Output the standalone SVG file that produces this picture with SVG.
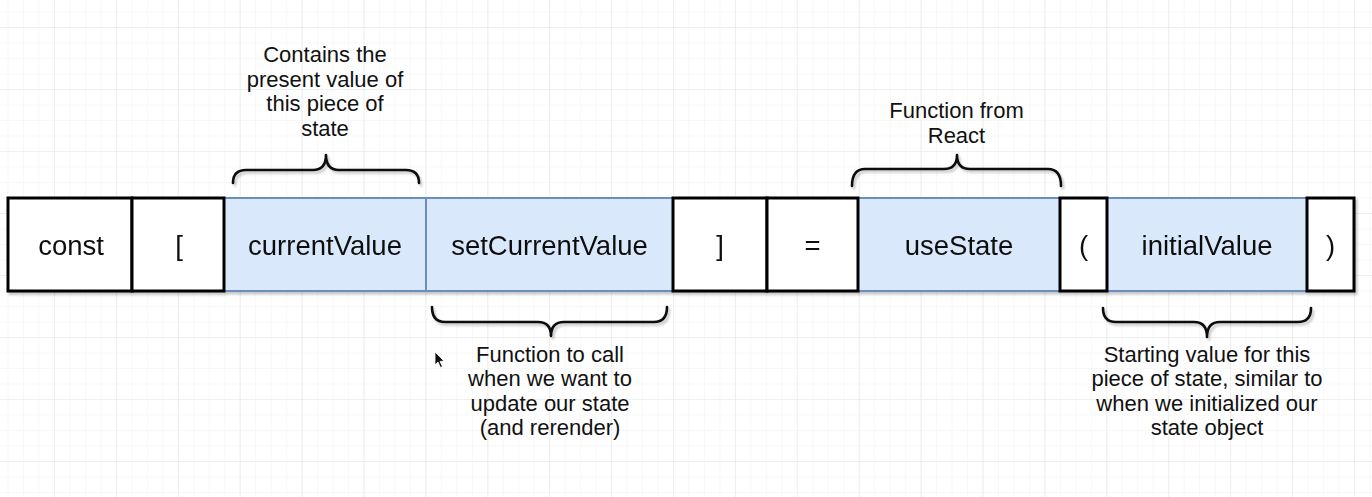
<svg xmlns="http://www.w3.org/2000/svg" width="1372" height="497" viewBox="0 0 1372 497">
  <defs>
    <pattern id="minor" x="-7.9" y="27" width="15.475" height="15.5" patternUnits="userSpaceOnUse">
      <path d="M0,0 H15.475 M0,0 V15.5" fill="none" stroke="#f2f2f2" stroke-width="1"/>
    </pattern>
    <pattern id="major" x="-7.9" y="27" width="61.9" height="62" patternUnits="userSpaceOnUse">
      <path d="M0,0 H61.9 M0,0 V62" fill="none" stroke="#e6e6e6" stroke-width="1.2"/>
    </pattern>
    <filter id="shadow" x="-10%" y="-10%" width="130%" height="140%">
      <feDropShadow dx="2" dy="2.5" stdDeviation="1.2" flood-color="#000" flood-opacity="0.22"/>
    </filter>
  </defs>
  <style>
    .plain { fill: #ffffff; stroke: #000000; stroke-width: 3; }
    .blue { fill: #dae8fc; stroke: #6c8ebf; stroke-width: 2; }
    .lbl { font-family: "Liberation Sans", Arial, Helvetica, sans-serif; font-size: 27.5px; fill: #111111; text-anchor: middle; }
    .note { font-family: "Liberation Sans", Arial, Helvetica, sans-serif; font-size: 22px; fill: #111111; text-anchor: middle; }
    .brace { fill: none; stroke: #111111; stroke-width: 2.6; stroke-linecap: round; stroke-linejoin: round; }
  </style>

  <rect width="1372" height="497" fill="#ffffff"/>
  <rect width="1372" height="497" fill="url(#minor)"/>
  <rect width="1372" height="497" fill="url(#major)"/>

  <g id="nodes" filter="url(#shadow)">
    <g id="node-currentValue">
      <rect class="blue" x="224" y="198" width="202" height="93"/>
      <text class="lbl" x="325" y="255">currentValue</text>
    </g>
    <g id="node-setCurrentValue">
      <rect class="blue" x="426" y="198" width="247" height="93"/>
      <text class="lbl" x="549.5" y="255">setCurrentValue</text>
    </g>
    <g id="node-useState">
      <rect class="blue" x="858" y="198" width="202" height="93"/>
      <text class="lbl" x="959" y="255">useState</text>
    </g>
    <g id="node-initialValue">
      <rect class="blue" x="1107" y="198" width="200" height="93"/>
      <text class="lbl" x="1207" y="255">initialValue</text>
    </g>
    <g id="node-const">
      <rect class="plain" x="8" y="198" width="124" height="93"/>
      <text class="lbl" x="71" y="255">const</text>
    </g>
    <g id="node-open-bracket">
      <rect class="plain" x="132" y="198" width="92" height="93"/>
      <text class="lbl" x="179" y="255">[</text>
    </g>
    <g id="node-close-bracket">
      <rect class="plain" x="673" y="198" width="94" height="93"/>
      <text class="lbl" x="720" y="255">]</text>
    </g>
    <g id="node-equals">
      <rect class="plain" x="767" y="198" width="91" height="93"/>
      <text class="lbl" x="812.5" y="255">=</text>
    </g>
    <g id="node-open-paren">
      <rect class="plain" x="1060" y="198" width="47" height="93"/>
      <text class="lbl" x="1083.5" y="255">(</text>
    </g>
    <g id="node-close-paren">
      <rect class="plain" x="1307" y="198" width="47" height="93"/>
      <text class="lbl" x="1330.5" y="255">)</text>
    </g>
  </g>

  <g id="connectors" filter="url(#shadow)">
    <path id="brace-currentValue" class="brace" d="M233,183 Q233,170 246,170 L313,170 Q326,170 326,155 Q326,170 339,170 L406,170 Q419,170 419,183"/>
    <path id="brace-setCurrentValue" class="brace" d="M432,307 Q432,322 445,322 L538,322 Q551,322 551,336 Q551,322 564,322 L654,322 Q667,322 667,307"/>
    <path id="brace-useState" class="brace" d="M852,186 Q852,169 865,169 L944,169 Q957,169 957,155 Q957,169 970,169 L1048,169 Q1061,169 1061,186"/>
    <path id="brace-initialValue" class="brace" d="M1103,308 Q1103,322 1116,322 L1194,322 Q1207,322 1207,337 Q1207,322 1220,322 L1298,322 Q1311,322 1311,308"/>
  </g>

  <g id="note-currentValue">
    <text class="note" x="325" y="62">Contains the</text>
    <text class="note" x="325" y="86.7">present value of</text>
    <text class="note" x="325" y="111.4">this piece of</text>
    <text class="note" x="325" y="136">state</text>
  </g>
  <g id="note-useState">
    <text class="note" x="956.5" y="118">Function from</text>
    <text class="note" x="956.5" y="142.5">React</text>
  </g>
  <g id="note-setCurrentValue">
    <text class="note" x="550" y="361.5">Function to call</text>
    <text class="note" x="550" y="386">when we want to</text>
    <text class="note" x="550" y="410.5">update our state</text>
    <text class="note" x="550" y="435">(and rerender)</text>
  </g>
  <g id="note-initialValue">
    <text class="note" x="1207" y="361.5">Starting value for this</text>
    <text class="note" x="1207" y="386">piece of state, similar to</text>
    <text class="note" x="1207" y="410.5">when we initialized our</text>
    <text class="note" x="1207" y="435">state object</text>
  </g>

  <path id="cursor" d="M435,352 L435,365 L438,362 L440.5,367.5 L442.5,366.5 L440,361.5 L444,361 Z" fill="#111111" stroke="#ffffff" stroke-width="0.8"/>
</svg>
